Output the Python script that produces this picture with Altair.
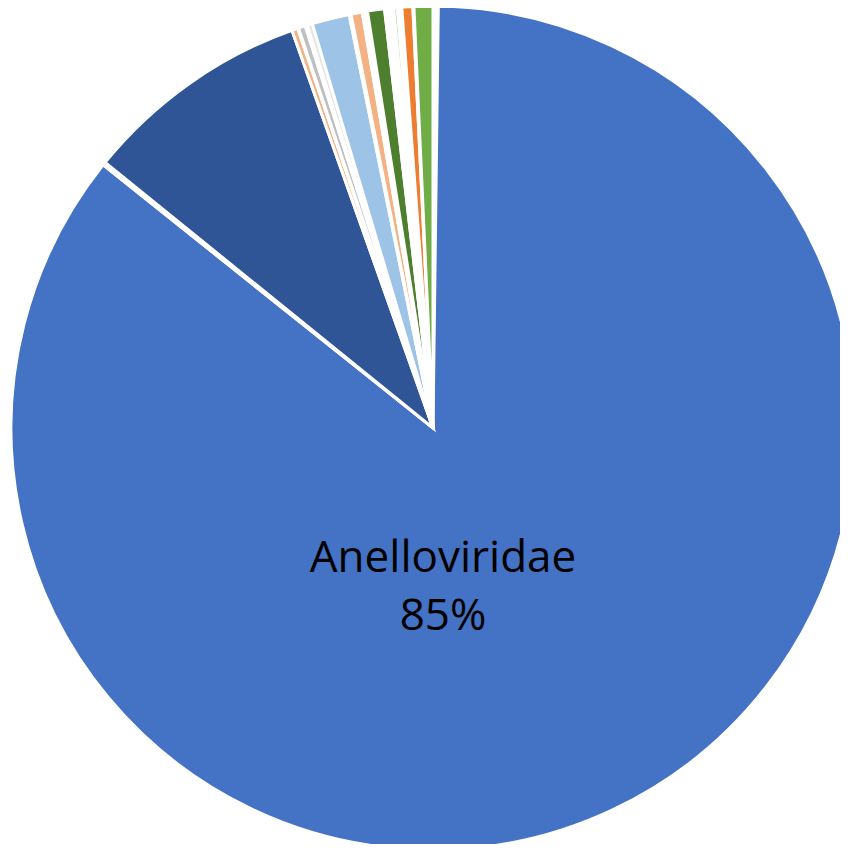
import altair as alt
import pandas as pd

# Slices clockwise from 12 o'clock (percent of total); "gap" slices are white spacers
categories = ["gap0", "Anelloviridae", "gap1", "Family B", "Family C", "gap2", "Family D", "gap3",
              "Family E", "Family F", "gap4", "Family G", "gap5", "Family H", "gap6",
              "Family I", "gap7", "Family J", "gap8", "Family K"]
values = [0.200, 85.436, 0.120, 8.730, 0.230, 0.030, 0.270, 0.080,
          0.200, 1.430, 0.070, 0.430, 0.200, 0.650, 0.340,
          0.150, 0.160, 0.420, 0.040, 0.720]
colors = ["#FFFFFF", "#4472C4", "#FFFFFF", "#2F5597", "#F4B183", "#FFFFFF", "#BFBFBF", "#FFFFFF",
          "#E4E4E4", "#9DC3E6", "#FFFFFF", "#F4B183", "#FFFFFF", "#4E7F2F", "#FFFFFF",
          "#C5E0B4", "#FFFFFF", "#ED7D31", "#FFFFFF", "#70AD47"]

label_name = "Anelloviridae"
label_pct = "85%"

df = pd.DataFrame({"cat": categories, "val": values, "order": list(range(len(categories))), "col": colors})

pie = alt.Chart(df).mark_arc(outerRadius=422, stroke="white", strokeWidth=3).encode(
    theta=alt.Theta("val:Q", stack=True),
    order=alt.Order("order:Q"),
    color=alt.Color("col:N", scale=None, legend=None),
    x=alt.value(425),
    y=alt.value(420),
)

lbl = pd.DataFrame({"t": [label_name, label_pct], "row": [0, 1]})
text = alt.Chart(lbl).mark_text(font="Open Sans", fontSize=44, color="#000000", baseline="alphabetic", align="center").encode(
    text="t:N",
    x=alt.value(435),
    y=alt.Y("row:Q", scale=alt.Scale(domain=[0, 1], range=[564, 622]), axis=None),
)

chart = alt.layer(pie, text).properties(
    width=832, height=836, autosize=alt.AutoSizeParams(type="none"), padding=0
).configure_view(stroke=None)

chart.save("out.html", embed_options={"renderer": "svg", "actions": False})
